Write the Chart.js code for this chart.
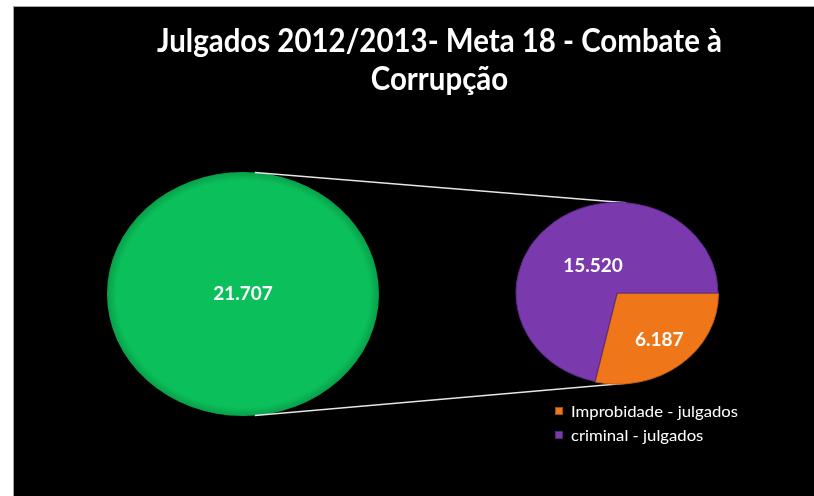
<!DOCTYPE html>
<html>
<head>
<meta charset="utf-8">
<script src="https://cdn.jsdelivr.net/npm/chart.js@4.4.1/dist/chart.umd.min.js"></script>
<style>
  html, body { margin: 0; padding: 0; background: #fff; }
  #frame {
    position: absolute; left: 13px; top: 6px;
    width: 800px; height: 489px;
    background: #000;
    border-left: 1px solid #a6a6a6; border-top: 1px solid #a6a6a6;
  }
  #frame canvas { position: absolute; left: 0; top: 0; }
</style>
</head>
<body>
<div id="frame">
  <canvas id="totalPie" width="800" height="489"></canvas>
  <canvas id="splitPie" width="800" height="489"></canvas>
</div>
<script>
// data
const titleLines = ['Julgados 2012/2013- Meta 18 - Combate à', 'Corrupção'];
const totalLabels = ['Total - julgados'];
const totalValues = [21707];
const splitLabels = ['Improbidade - julgados', 'criminal - julgados'];
const splitValues = [6187, 15520];

const GREEN = '#0bbf5a';
const ORANGE = '#ef7719';
const PURPLE = '#7a3aad';

const W = 800, H = 489;
const K = 0.897;               // vertical squash, gives the tilted 3D look
const leftPie = { x: 229, y: 287, r: 136 };
const rightPie = { x: 603, y: 286, r: 101 };

const fmt = v => String(v).replace(/\B(?=(\d{3})+(?!\d))/g, '.');

function padFor(c) {
  const s = c.r + 10;
  return { left: c.x - s, right: W - c.x - s, top: c.y - s, bottom: H - c.y - s };
}

function rimFill(base, rim, c) {
  return (ctx) => {
    const chart = ctx.chart;
    const g = chart.ctx.createRadialGradient(c.x, c.y, 0, c.x, c.y, c.r);
    g.addColorStop(0, base);
    g.addColorStop(0.93, base);
    g.addColorStop(1, rim);
    return g;
  };
}

// squash the pie into an ellipse and write the value labels
const squash = {
  id: 'squash',
  beforeDatasetsDraw(chart) {
    const a = chart.getDatasetMeta(0).data[0];
    const ctx = chart.ctx;
    ctx.save();
    ctx.translate(a.x, a.y);
    ctx.scale(1, K);
    ctx.translate(-a.x, -a.y);
  },
  afterDatasetsDraw(chart, args, opts) {
    const ctx = chart.ctx;
    ctx.restore();
    const meta = chart.getDatasetMeta(0);
    const ds = chart.data.datasets[0];
    ctx.save();
    ctx.fillStyle = '#fff';
    ctx.font = 'bold 19px Lato';
    ctx.textAlign = 'center';
    ctx.textBaseline = 'middle';
    meta.data.forEach((arc, i) => {
      const p = arc.getProps(['x', 'y', 'startAngle', 'endAngle', 'outerRadius'], true);
      const mid = (p.startAngle + p.endAngle) / 2;
      const d = p.outerRadius * opts.labelPos[i] + (arc.options.offset || 0);
      ctx.fillText(fmt(ds.data[i]), p.x + Math.cos(mid) * d, p.y + Math.sin(mid) * d * K);
    });
    ctx.restore();
  }
};

const totalChart = new Chart(document.getElementById('totalPie'), {
  type: 'pie',
  data: {
    labels: totalLabels,
    datasets: [{
      data: totalValues,
      backgroundColor: rimFill(GREEN, '#07a04a', leftPie),
      borderWidth: 0
    }]
  },
  options: {
    responsive: false,
    animation: false,
    events: [],
    radius: leftPie.r,
    layout: { padding: padFor(leftPie) },
    plugins: {
      legend: { display: false },
      tooltip: { enabled: false },
      squash: { labelPos: [0] }
    }
  },
  plugins: [squash]
});

// lines joining the two pies
const connectors = {
  id: 'connectors',
  beforeDatasetsDraw(chart) {
    const a = totalChart.getDatasetMeta(0).data[0];
    const b = chart.getDatasetMeta(0).data[0];
    const phi = 5 * Math.PI / 180;
    const ctx = chart.ctx;
    ctx.save();
    ctx.strokeStyle = '#e6e6e6';
    ctx.lineWidth = 1.5;
    [-1, 1].forEach(s => {
      ctx.beginPath();
      ctx.moveTo(a.x + a.outerRadius * Math.sin(phi), a.y + s * a.outerRadius * K * Math.cos(phi));
      ctx.lineTo(b.x + b.outerRadius * Math.sin(phi), b.y + s * b.outerRadius * K * Math.cos(phi));
      ctx.stroke();
    });
    ctx.restore();
  }
};

// title and legend
const texts = {
  id: 'texts',
  afterDraw(chart) {
    const ctx = chart.ctx;
    ctx.save();
    ctx.fillStyle = '#fff';
    ctx.textBaseline = 'alphabetic';

    ctx.font = 'bold 32px Lato';
    const sx = 565 / ctx.measureText(titleLines[0]).width;
    ctx.textAlign = 'center';
    titleLines.forEach((t, i) => {
      ctx.save();
      ctx.translate(425.5, 45 + i * 38);
      ctx.scale(sx, 1);
      ctx.fillText(t, 0, 0);
      ctx.restore();
    });

    const ds = chart.data.datasets[0];
    ctx.font = '16px Lato';
    ctx.textAlign = 'left';
    const lx = 167 / ctx.measureText(chart.data.labels[0]).width;
    chart.data.labels.forEach((lab, i) => {
      const y = 410 + i * 24;
      ctx.fillStyle = ds.backgroundColor[i];
      ctx.fillRect(541, y - 10, 8, 8);
      ctx.strokeStyle = 'rgba(0,0,0,0.35)';
      ctx.lineWidth = 1;
      ctx.strokeRect(541.5, y - 9.5, 7, 7);
      ctx.fillStyle = '#fff';
      ctx.save();
      ctx.translate(557, y);
      ctx.scale(lx, 1);
      ctx.fillText(lab, 0, 0);
      ctx.restore();
    });
    ctx.restore();
  }
};

new Chart(document.getElementById('splitPie'), {
  type: 'pie',
  data: {
    labels: splitLabels,
    datasets: [{
      data: splitValues,
      backgroundColor: [ORANGE, PURPLE],
      borderColor: ['#c85f10', '#5f2a8a'],
      borderWidth: 1,
      offset: [3, 0]
    }]
  },
  options: {
    responsive: false,
    animation: false,
    events: [],
    rotation: 90,
    radius: rightPie.r,
    layout: { padding: padFor(rightPie) },
    plugins: {
      legend: { display: false },
      tooltip: { enabled: false },
      squash: { labelPos: [0.64, 0.38] }
    }
  },
  plugins: [connectors, squash, texts]
});
</script>
</body>
</html>
